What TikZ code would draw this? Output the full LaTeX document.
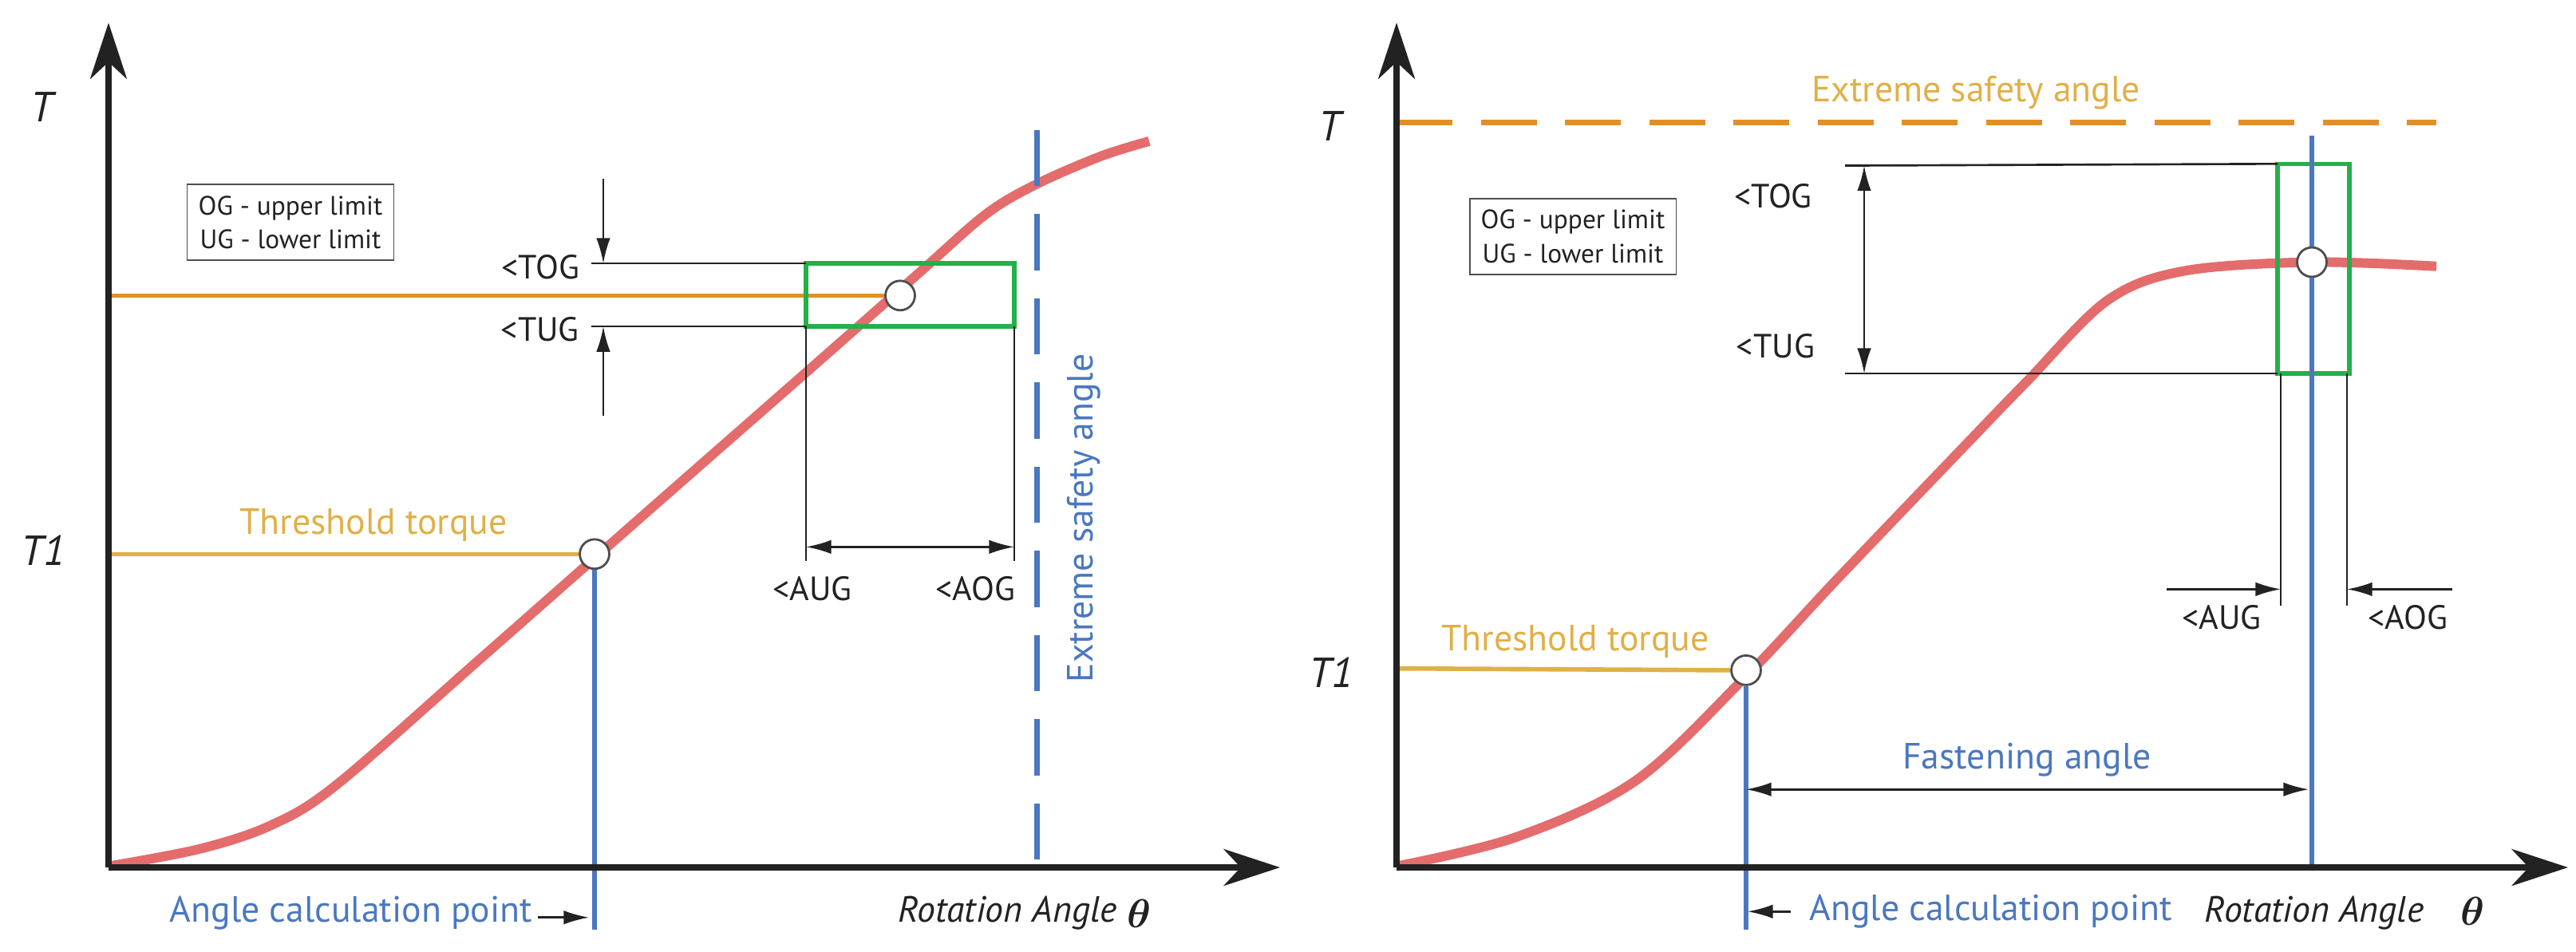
\documentclass[tikz,border=0pt]{standalone}
\usepackage{amsmath}
\usepackage{fontspec}
\setmainfont{PT Sans}
\usetikzlibrary{arrows.meta}
\definecolor{cred}{HTML}{E46C6C}
\definecolor{corange}{HTML}{E38E2A}
\definecolor{cyellow}{HTML}{E0B048}
\definecolor{cblue}{HTML}{4A78C0}
\definecolor{cgreen}{HTML}{22B04A}
\definecolor{ctext}{HTML}{222222}
\tikzset{
 axis/.style={line width=2.4pt,ctext,-{Stealth[length=20pt,width=13pt,inset=6pt]}},
 curve/.style={line width=3.4pt,cred},
 thin/.style={line width=0.75pt,ctext},
 dim/.style={thin,{Latex[length=9pt,width=5pt]}-{Latex[length=9pt,width=5pt]}},
 sarrow/.style={thin,-{Latex[length=9pt,width=5pt]}},
 pt/.style={circle,draw=ctext!80,fill=white,line width=0.8pt,minimum size=10.5pt,inner sep=0pt},
 lab/.style={font=\fontsize{12}{14}\selectfont,text=ctext,inner sep=1pt},
 axlab/.style={font=\fontsize{15}{18}\selectfont\itshape,text=ctext},
 legend/.style={draw=ctext!80,line width=0.5pt,font=\fontsize{9.5}{12}\selectfont,align=center,text=ctext,inner sep=4pt},
}
\begin{document}
\begin{tikzpicture}[x=0.01cm,y=-0.007465cm]
\useasboundingbox (0,0) rectangle (3228,1596.8);
% ===== left panel =====
\coordinate (LO) at (136,1456);
\coordinate (LY) at (136,38);
\coordinate (LX) at (1604,1456);
\draw[curve] plot[smooth,tension=0.55] coordinates{(136,1454) (250,1425) (340,1385) (422,1317) (600,1108) (800,872) (1000,637) (1150,460) (1235,360) (1299,309) (1380,262) (1440,237)};
\draw[line width=2pt,cblue,dash pattern=on 20pt off 10pt] (1299,218) -- (1299,1456);
\node[rotate=90,font=\fontsize{13}{15}\selectfont,text=cblue] (lesa) at (1358,870) {Extreme safety angle};
\node[pt] (Lc2) at (1128,496) {};
\node[pt] (Lc1) at (745,930) {};
\draw[line width=1.6pt,corange] (LO|-Lc2) -- (Lc2.west);
\draw[line width=1.6pt,cyellow] (LO|-Lc1) -- (Lc1.west);
\node[lab,text=cyellow,font=\fontsize{13}{15}\selectfont] (lthr) at (468,882) {Threshold torque};
\draw[line width=1.6pt,cblue] (Lc1.south) -- (745,1561);
\draw[line width=1.6pt,cgreen] (1010,442) rectangle (1271,548);
\coordinate (Lg1) at (1010,442); \coordinate (Lg2) at (1010,548);
\coordinate (Lg3) at (1271,548);
\draw[thin] (741,442) -- (Lg1);
\draw[thin] (741,548) -- (Lg2);
\node[lab,anchor=east] (ltog) at (730,448) {<TOG};
\node[lab,anchor=east] (ltug) at (730,553) {<TUG};
\coordinate (La1) at (756,300); \coordinate (La2) at (756,698);
\draw[sarrow] (La1) -- (756,442);
\draw[sarrow] (La2) -- (756,548);
\draw[thin] (Lg2) -- (1010,942);
\draw[thin] (Lg3) -- (1271,942);
\draw[dim] (1010,918) -- (1271,918);
\node[lab] (laug) at (1018,988) {<AUG};
\node[lab] (laog) at (1222,988) {<AOG};
\node[legend] (lleg) at (364,373) {OG - upper limit\\UG - lower limit};
\node[font=\fontsize{13}{15}\selectfont,text=cblue] (lacp) at (440,1533) {Angle calculation point};
\coordinate (Lap) at (674,1540);
\draw[sarrow] (Lap) -- (738,1540);
\node[axlab,font=\fontsize{13}{15}\selectfont\itshape,anchor=east] (lrot) at (1412,1533) {Rotation Angle};
\node[axlab,font=\fontsize{15}{18}\selectfont,anchor=west,inner sep=0pt] (lth) at (lrot.east) {$\boldsymbol\theta$};
\node[axlab] (lT) at (52,180) {T};
\node[axlab] (lT1) at (54,924) {T1};
\draw[axis] (LO) -- (LY);
\draw[axis] (LO) -- (LX);
% ===== right panel =====
\coordinate (RO) at (1750,1456);
\coordinate (RY) at (1750,38);
\coordinate (RX) at (3218,1456);
\draw[line width=2pt,corange,dash pattern=on 20pt off 10pt] (1750,206) -- (3053,206);
\node[font=\fontsize{13}{15}\selectfont,text=cyellow] (resa) at (2476,156) {Extreme safety angle};
\draw[curve] plot[smooth,tension=0.55] coordinates{(1750,1454) (1900,1405) (2050,1310) (2188,1135) (2300,975) (2450,765) (2540,640) (2640,505) (2736,455) (2897,440) (3053,447)};
\node[legend] (rleg) at (1971,397) {OG - upper limit\\UG - lower limit};
\draw[line width=1.6pt,cgreen] (2854,275) rectangle (2944,627);
\coordinate (Rg1) at (2854,275); \coordinate (Rg2) at (2854,627);
\draw[thin] (2312,278) -- (Rg1);
\draw[thin] (2312,627) -- (Rg2);
\draw[dim] (2336,278) -- (2336,627);
\node[lab] (rtog) at (2222,329) {<TOG};
\node[lab] (rtug) at (2225,581) {<TUG};
\node[pt] (Rc2) at (2897,440) {};
\node[pt] (Rc1) at (2188,1125) {};
\draw[line width=1.6pt,cblue] (2897,228) -- (Rc2.north);
\draw[line width=1.6pt,cblue] (Rc2.south) -- (2897,1454);
\draw[line width=1.6pt,cyellow] (1750,1122) -- (Rc1.west);
\node[lab,text=cyellow,font=\fontsize{13}{15}\selectfont] (rthr) at (1974,1077) {Threshold torque};
\draw[line width=1.6pt,cblue] (Rc1.south) -- (2188,1561);
\draw[thin] (2858,627) -- (2858,1017);
\draw[thin] (2941,627) -- (2941,1017);
\coordinate (Rb1) at (2715,989); \coordinate (Rb2) at (3073,989);
\draw[sarrow] (Rb1) -- (2858,989);
\draw[sarrow] (Rb2) -- (2941,989);
\node[lab] (raug) at (2784,1037) {<AUG};
\node[lab] (raog) at (3017,1037) {<AOG};
\draw[dim] (2188,1325) -- (2893,1325);
\node[font=\fontsize{13}{15}\selectfont,text=cblue] (rfa) at (2540,1276) {Fastening angle};
\coordinate (Rap) at (2244,1530);
\draw[sarrow] (Rap) -- (2190,1530);
\node[font=\fontsize{13}{15}\selectfont,text=cblue,anchor=west] (racp) at (2255,1530) {Angle calculation point};
\node[axlab,font=\fontsize{13}{15}\selectfont\itshape] (rrot) at (2900,1533) {Rotation Angle};
\node[axlab] (rth) at (3098,1530) {$\boldsymbol\theta$};
\node[axlab] (rT) at (1666,211) {T};
\node[axlab] (rT1) at (1668,1129) {T1};
\draw[axis] (RO) -- (RY);
\draw[axis] (RO) -- (RX);
\end{tikzpicture}
\end{document}
